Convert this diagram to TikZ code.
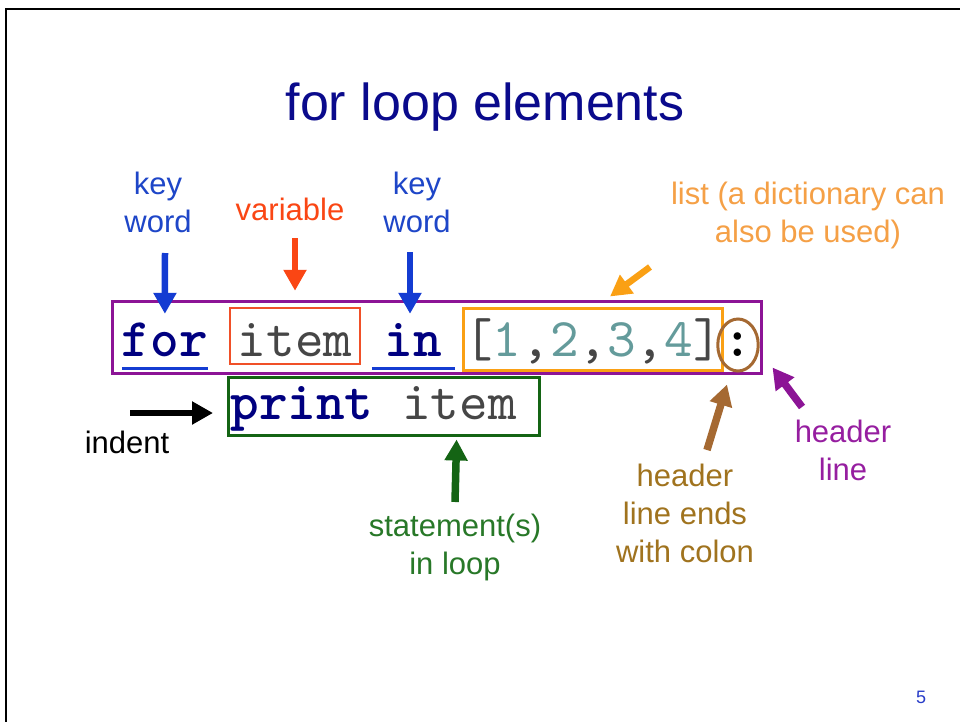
\documentclass[tikz,border=0pt]{standalone}
\usepackage{fontspec}
\setmainfont{Liberation Sans}
\newfontfamily\codefont{lmmono10-regular.otf}[BoldFont=lmmonolt10-bold.otf]
\usetikzlibrary{arrows.meta,shapes.geometric,calc}
\definecolor{navy}{RGB}{0,0,128}
\definecolor{titlenavy}{RGB}{10,10,140}
\definecolor{kwblue}{RGB}{30,70,200}
\definecolor{arrblue}{RGB}{20,60,210}
\definecolor{varred}{RGB}{250,70,20}
\definecolor{boxred}{RGB}{240,80,40}
\definecolor{lsttext}{RGB}{245,160,70}
\definecolor{lstorange}{RGB}{250,160,20}
\definecolor{hdrpurple}{RGB}{140,20,150}
\definecolor{hdrtext}{RGB}{150,30,160}
\definecolor{boxgreen}{RGB}{20,100,20}
\definecolor{stmtgreen}{RGB}{40,120,40}
\definecolor{arrbrown}{RGB}{165,105,50}
\definecolor{coltext}{RGB}{160,115,30}
\definecolor{itemgray}{RGB}{70,70,70}
\definecolor{digit}{RGB}{100,155,155}
\definecolor{pageblue}{RGB}{40,60,200}
\begin{document}
\begin{tikzpicture}[x=1pt,y=-1pt,
  lbl/.style={align=center,font=\fontsize{31}{38}\selectfont,inner sep=0,anchor=base},
  code/.style={font=\codefont\fontsize{54.5}{56}\selectfont,inner sep=0,anchor=base},
  fatarrow/.style={line width=6.5,-{Triangle[length=21pt,width=22pt]}}]
\useasboundingbox (0,0) rectangle (960,722);
\fill[white] (0,0) rectangle (960,722);
\draw[line width=2.5] (6,722) -- (6,9) -- (960,9);
% title
\node[anchor=base,text=titlenavy,font=\fontsize{52}{60}\selectfont,inner sep=0] (title) at (485,121) {for loop elements};
% header line box
\node[draw=hdrpurple,line width=3,minimum width=649,minimum height=72,inner sep=0] (hdr) at (436.5,337) {};
% code line 1
\node[code,text height=42,text depth=12] (kwfor) at (164.9,356) {\bfseries\color{navy}for};
\draw[arrblue,line width=3] (kwfor.south west) -- (kwfor.south east);
\node[code,draw=boxred,line width=2.5,inner xsep=7.8,text height=48,text depth=8] (var) at (295,356) {\color{itemgray}item};
\node[code,inner xsep=12.9,text height=42,text depth=12] (kwin) at (413.5,356) {\bfseries\color{navy}in};
\draw[arrblue,line width=3] (kwin.south west) -- (kwin.south east);
\node[code,draw=lstorange,line width=3,inner xsep=0.5,text height=48,text depth=14] (lst) at (593,356)
  {\color{itemgray}[\textcolor{digit}{1},\textcolor{digit}{2},\textcolor{digit}{3},\textcolor{digit}{4}]};
\node[code,anchor=center,ellipse,draw=arrbrown,line width=3,minimum width=28,minimum height=52] (col) at (738,345) {\bfseries :};
% code line 2
\node[code,anchor=base west,draw=boxgreen,line width=3,inner xsep=2,text height=42,text depth=16] (stmt) at (227,419)
  {{\bfseries\color{navy}print}\ {\color{itemgray}item}\rule{21pt}{0pt}};
% labels (base = last line)
\node[lbl,text=kwblue] (kw1) at (158,232) {key\\word};
\node[lbl,text=varred] (varlbl) at (290,220) {variable};
\node[lbl,text=kwblue] (kw2) at (417,232) {key\\word};
\node[lbl,text=lsttext] (lstlbl) at (808,242) {list (a dictionary can\\also be used)};
\node[lbl] (indent) at (127,453) {indent};
\node[lbl,text=stmtgreen] (stmtlbl) at (455,574) {statement(s)\\in loop};
\node[lbl,text=coltext] (collbl) at (685,562) {header\\line ends\\with colon};
\node[lbl,text=hdrtext] (hdrlbl) at (843,480) {header\\line};
\node[font=\fontsize{18}{20}\selectfont,text=pageblue,inner sep=0] (page) at (921,697) {5};
% arrow tails
\coordinate (t1) at (165,253);
\coordinate (t2) at (295,238);
\coordinate (t3) at (410,252);
\coordinate (t4) at (650,267);
\coordinate (t5) at (130,413);
\coordinate (t6) at (455,502);
\coordinate (t7) at (707,450);
\coordinate (t8) at (802,407);
% arrows
\draw[fatarrow,arrblue] (t1) -- (kwfor.north);
\draw[fatarrow,varred] (t2) -- ([yshift=16]var.north);
\draw[fatarrow,arrblue] (t3) -- ([xshift=-3.5]kwin.north);
\draw[fatarrow,lstorange] (t4) -- ([xshift=17,yshift=10]lst.north);
\draw[fatarrow,black] (t5) -- ([xshift=-14,yshift=-7]stmt.west);
\draw[fatarrow,boxgreen,line width=7.5] (t6) -- ([xshift=72.5,yshift=-3]stmt.south);
\draw[fatarrow,arrbrown,line width=7.5] (t7) -- ([xshift=-11,yshift=-12]col.south);
\draw[fatarrow,hdrpurple,line width=7.5] (t8) -- ([xshift=10,yshift=7]hdr.south east);
\end{tikzpicture}
\end{document}
